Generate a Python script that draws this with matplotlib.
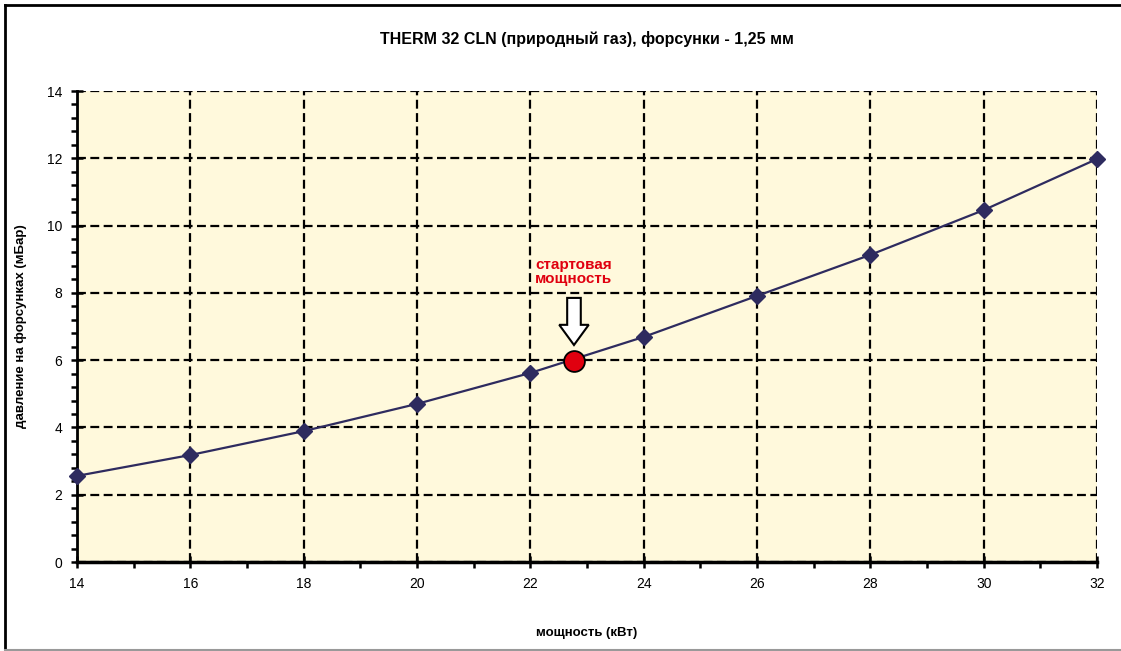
import numpy as np
import matplotlib
matplotlib.use('Agg')
import matplotlib.pyplot as plt
from matplotlib.patches import FancyArrow
from matplotlib.lines import Line2D
from matplotlib.ticker import MultipleLocator

plt.rcParams['font.family'] = ['Liberation Sans', 'DejaVu Sans']

#Data
power_kw = [14, 16, 18, 20, 22, 24, 26, 28, 30, 32]
pressure_mbar = [2.56, 3.18, 3.89, 4.70, 5.62, 6.69, 7.91, 9.13, 10.46, 11.98]
start_power = 22.77
start_pressure = 5.97

title = "THERM 32 CLN (природный газ), форсунки - 1,25 мм"
xlabel = "мощность (кВт)"
ylabel = "давление на форсунках (мБар)"
start_label = "стартовая\nмощность"

fig = plt.figure( figsize=(11.21, 6.51), dpi=100 )
ax = fig.add_axes( [0.0687, 0.1367, 0.9099, 0.7235] )
ax.set_facecolor( '#FFF9DC' )

#Figure frame (left/top dark, bottom gray)
fig.add_artist( Line2D( [0.0045, 0.0045], [0.0, 0.9925], transform=fig.transFigure, color='black', lw=2 ) )
fig.add_artist( Line2D( [0.0045, 1.0], [0.9925, 0.9925], transform=fig.transFigure, color='black', lw=2 ) )
fig.add_artist( Line2D( [0.0045, 1.0], [0.002, 0.002], transform=fig.transFigure, color='#999999', lw=1.5 ) )

ax.plot( power_kw, pressure_mbar, '-', color='#2E2B5F', lw=1.6, marker='D', markersize=8,
         markerfacecolor='#2E2B5F', markeredgecolor='#2E2B5F', zorder=4, clip_on=False )
ax.plot( [start_power], [start_pressure], 'o', color='#E0000F', markersize=15,
         markeredgecolor='black', markeredgewidth=1.3, zorder=5 )

#Arrow pointing to start point
ax.add_patch( FancyArrow( start_power, 7.85, 0, -1.4, width=0.24, head_width=0.52, head_length=0.6,
                          length_includes_head=True, facecolor='white', edgecolor='black', lw=1.5, zorder=6 ) )
ax.text( start_power, 8.62, start_label, color='#E0000F', fontsize=11, fontweight='bold',
         ha='center', va='center', linespacing=1.05, zorder=6 )

ax.set_xlim( 14, 32 )
ax.set_ylim( 0, 14 )
ax.xaxis.set_major_locator( MultipleLocator(2) )
ax.xaxis.set_minor_locator( MultipleLocator(1) )
ax.yaxis.set_major_locator( MultipleLocator(2) )
ax.yaxis.set_minor_locator( MultipleLocator(0.4) )

ax.grid( which='major', color='black', linestyle=(0, (4, 2)), linewidth=1.6 )
ax.set_axisbelow( True )
for s in ['top', 'right']:
    ax.spines[s].set_visible( False )
ax.spines['left'].set_linewidth( 2 )
ax.spines['bottom'].set_linewidth( 2.5 )

ax.tick_params( which='major', direction='inout', length=9, width=1.8, labelsize=10, pad=6 )
ax.tick_params( which='minor', direction='out', length=4, width=1.8 )

ax.set_title( title, fontsize=11.5, fontweight='bold', pad=34 )
ax.set_xlabel( xlabel, fontsize=9.5, fontweight='bold', labelpad=26 )
ax.set_ylabel( ylabel, fontsize=9.5, fontweight='bold', labelpad=14 )

fig.savefig( 'out.png', dpi=100 )
